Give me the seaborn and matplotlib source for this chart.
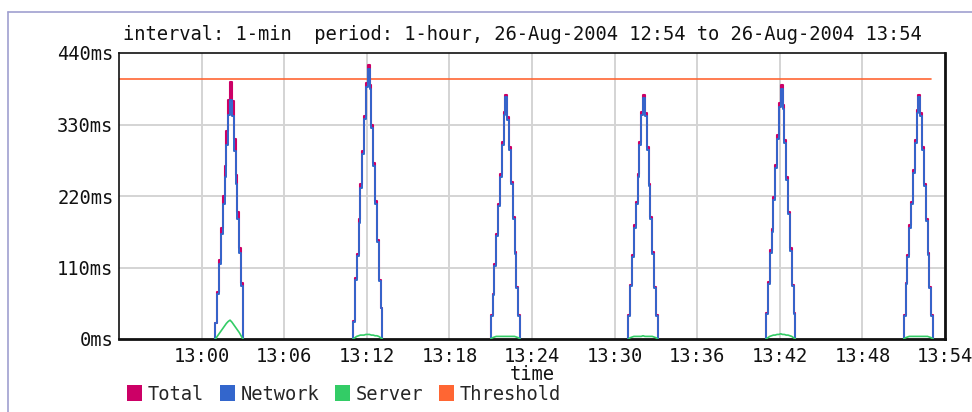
import matplotlib
matplotlib.use("Agg")
import matplotlib.pyplot as plt
from matplotlib.patches import Patch
from matplotlib.lines import Line2D
import pandas as pd
import seaborn as sns

# ---------------- data ----------------
day = "2004-08-26"
period_start = "12:54"
period_end = "13:54"
x_tick_labels = ["13:00", "13:06", "13:12", "13:18", "13:24",
                 "13:30", "13:36", "13:42", "13:48", "13:54"]
y_tick_values = [0, 110, 220, 330, 440]
y_tick_labels = ["0ms", "110ms", "220ms", "330ms", "440ms"]

peak_starts = ["13:01:00", "13:11:00", "13:21:00", "13:31:00", "13:41:00", "13:51:00"]
step_seconds = 8

total_ms = [
    [25, 73, 122, 171, 220, 266, 320, 368, 395, 366, 308, 253, 196, 140, 86],
    [27, 94, 131, 184, 238, 289, 343, 394, 422, 391, 330, 271, 212, 153, 91, 48],
    [37, 70, 116, 162, 208, 254, 303, 349, 376, 341, 295, 242, 188, 134, 80, 37],
    [37, 83, 129, 175, 211, 254, 303, 349, 375, 347, 295, 239, 188, 134, 80, 37],
    [40, 88, 137, 170, 219, 268, 314, 363, 391, 360, 306, 250, 196, 140, 83, 40],
    [37, 86, 129, 175, 211, 260, 306, 352, 376, 347, 295, 239, 185, 132, 80, 37],
]
network_ms = [
    [25, 70, 116, 162, 207, 249, 299, 344, 368, 343, 289, 239, 185, 133, 82],
    [26, 91, 127, 179, 233, 284, 338, 388, 416, 385, 325, 266, 208, 150, 89, 47],
    [36, 68, 113, 158, 204, 250, 299, 345, 372, 337, 291, 238, 185, 131, 78, 36],
    [36, 81, 126, 171, 207, 250, 299, 345, 371, 343, 291, 235, 185, 131, 78, 36],
    [39, 85, 133, 165, 214, 263, 308, 357, 385, 354, 301, 245, 192, 136, 81, 39],
    [36, 84, 126, 171, 207, 256, 302, 348, 372, 343, 291, 235, 182, 129, 78, 36],
]
server_ms = [
    [0, 4, 8, 12, 16, 20, 24, 27, 29, 26, 22, 18, 14, 10, 5, 0],
    [0, 2, 4, 5, 6, 6, 6, 7, 7, 7, 6, 6, 5, 5, 4, 2, 0],
    [0, 2, 3, 4, 4, 4, 4, 4, 4, 4, 4, 4, 4, 4, 3, 2, 0],
    [0, 2, 3, 4, 4, 4, 4, 4, 5, 4, 4, 4, 4, 4, 3, 2, 0],
    [0, 2, 4, 5, 6, 6, 7, 7, 8, 7, 7, 6, 6, 5, 4, 2, 0],
    [0, 2, 3, 4, 4, 4, 4, 4, 4, 4, 4, 4, 4, 4, 3, 2, 0],
]
threshold_times = ["12:54", "13:53"]
threshold_ms = [400, 400]

series_names = ["Total", "Network", "Server", "Threshold"]
series_colors = ["#cc0066", "#3366cc", "#33cc66", "#ff6633"]

# ---------------- build tables ----------------
def ts(s):
    return pd.Timestamp(f"{day} {s}")

step_rows = []
server_rows = []
for k, start in enumerate(peak_starts):
    t0 = ts(start)
    tot = total_ms[k]
    net = network_ms[k]
    n = len(tot)
    times = [t0 + pd.Timedelta(seconds=step_seconds * i) for i in range(n + 1)]
    step_rows.append(dict(peak=k, t=times[0], total=0, network=0))
    for i in range(n):
        step_rows.append(dict(peak=k, t=times[i], total=tot[i], network=net[i]))
    step_rows.append(dict(peak=k, t=times[n], total=0, network=0))
    for i, s in enumerate(server_ms[k]):
        server_rows.append(dict(peak=k, t=times[i], server=s))
steps = pd.DataFrame(step_rows)
servers = pd.DataFrame(server_rows)
thr = pd.DataFrame(dict(t=[ts(x) for x in threshold_times], v=threshold_ms))

# ---------------- figure ----------------
sns.set_style("white")
plt.rcParams["font.family"] = ["DejaVu Sans Mono"]
FS = 13.5

W, H = 972, 412
fig = plt.figure(figsize=(W / 100, H / 100), dpi=100)
L, R, T, B = 119, 945, 53, 339
ax = fig.add_axes([L / W, 1 - B / H, (R - L) / W, (B - T) / H])

# grid
for lab in x_tick_labels:
    ax.axvline(ts(lab), color="#d4d4d4", lw=1.4, zorder=0)
for v in y_tick_values[1:-1]:
    ax.axhline(v, color="#d4d4d4", lw=1.4, zorder=0)

sns.lineplot(data=thr, x="t", y="v", color=series_colors[3], lw=1.2,
             ax=ax, zorder=2)
sns.lineplot(data=steps, x="t", y="total", units="peak", estimator=None,
             sort=False, drawstyle="steps-post", color=series_colors[0],
             lw=1.5, ax=ax, zorder=3)
sns.lineplot(data=steps, x="t", y="network", units="peak", estimator=None,
             sort=False, drawstyle="steps-post", color=series_colors[1],
             lw=1.4, ax=ax, zorder=4)
sns.lineplot(data=servers, x="t", y="server", units="peak", estimator=None,
             sort=False, color=series_colors[2], lw=1.2, ax=ax, zorder=5)

ax.set_xlim(ts(period_start), ts(period_end))
ax.set_ylim(0, 440)
ax.set_xticks([ts(x) for x in x_tick_labels])
ax.set_xticklabels(x_tick_labels)
ax.set_yticks(y_tick_values)
ax.set_yticklabels(y_tick_labels)
ax.tick_params(axis="both", length=0, labelsize=FS, colors="#111111")
ax.tick_params(axis="x", pad=6)
ax.tick_params(axis="y", pad=4)
ax.set_xlabel("")
ax.set_ylabel("")
for side in ["top", "left"]:
    ax.spines[side].set_linewidth(1.2)
    ax.spines[side].set_color("#111111")
for side in ["bottom", "right"]:
    ax.spines[side].set_linewidth(2.0)
    ax.spines[side].set_color("#111111")
ax.grid(False)

fig.text(123 / W, 1 - 35 / H,
         "interval: 1-min  period: 1-hour, 26-Aug-2004 12:54 to 26-Aug-2004 13:54",
         fontsize=FS, ha="left", va="center", color="#111111")
fig.text((L + R) / 2 / W, 1 - 374 / H, "time", fontsize=FS,
         ha="center", va="center", color="#111111")

handles = [Patch(facecolor=c, edgecolor="none") for c in series_colors]
fig.legend(handles, series_names, loc="center left",
           bbox_to_anchor=(127 / W, 1 - 394 / H), ncol=4, frameon=False,
           fontsize=FS, handlelength=0.8, handleheight=0.9,
           handletextpad=0.3, columnspacing=0.85, borderpad=0, borderaxespad=0)

# outer page frame
fig.add_artist(Line2D([8 / W, 1.0], [1 - 12 / H, 1 - 12 / H],
                      color="#a0a0d0", lw=1.2, transform=fig.transFigure))
fig.add_artist(Line2D([8 / W, 8 / W], [0, 1 - 12 / H],
                      color="#a0a0d0", lw=1.2, transform=fig.transFigure))

fig.savefig("out.png", dpi=100, facecolor="white")
